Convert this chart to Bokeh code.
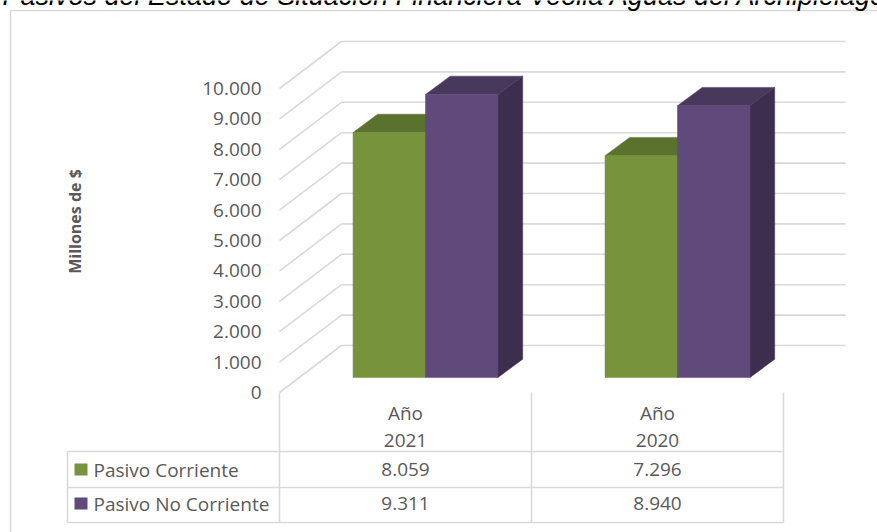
from bokeh.plotting import figure
from bokeh.models import Range1d
from bokeh.core.properties import value
from bokeh.embed import file_html
from bokeh.resources import INLINE
import math

# ---------------- data ----------------
years = ["2021", "2020"]
series_names = ["Pasivo Corriente", "Pasivo No Corriente"]
pasivo_corriente = [8059, 7296]
pasivo_no_corriente = [9311, 8940]
y_ticks = [0, 1000, 2000, 3000, 4000, 5000, 6000, 7000, 8000, 9000, 10000]
title_text = "Pasivos del Estado de Situación Financiera Veolia Aguas del Archipiélago"
y_title = "Millones de $"

# ---------------- styles / layout ----------------
W, H = 877, 532
K = 0.0304          # px per value unit
Y0 = 377            # px of value 0 on the bar plane
X0 = 425            # px of first category on the bar plane
SX = 252            # px per category step

def xu(px):
    return (px - X0) / SX

def yu(px):
    return (Y0 - px) / K

def off(dxp, dyp):
    return dxp / SX, -dyp / K

FRONT = off(-20, 15)
BACK = off(42, -32)
BAR_D = off(24.7, -18.3)
BW = 72.5 / SX

GREEN = ["#77933C", "#5B712E", "#4F6327"]
PURPLE = ["#604A7B", "#48395C", "#3D2E50"]
GRID = "#D9D9D9"
TXT = "#595959"
FONT = value("Open Sans")

def fmt(v):
    return f"{v:,}".replace(",", ".")

p = figure(width=W, height=H, output_backend="svg", toolbar_location=None,
           x_range=Range1d(xu(0), xu(W)), y_range=Range1d(yu(H), yu(0)),
           min_border=0, min_border_left=0, min_border_right=0,
           min_border_top=0, min_border_bottom=0)
p.axis.visible = False
p.grid.visible = False
p.outline_line_color = None
p.background_fill_color = "white"
p.border_fill_color = "white"

# chart border (top / left)
p.line([xu(10), xu(10)], [yu(10), yu(H + 5)], line_color=GRID, line_width=1.5)
p.line([xu(10), xu(W + 5)], [yu(10), yu(10)], line_color=GRID, line_width=1.5)

# title (cut at the top, as in the original)
p.text(x=[xu(2)], y=[yu(-5)], text=[title_text], text_font=value("Liberation Sans"),
       text_font_style="italic", text_font_size="27px", text_color="black",
       text_baseline="alphabetic", text_align="left")

# grid lines: side wall diagonals + back wall
xs, ys = [], []
for v in y_ticks:
    xs.append([-0.5 + FRONT[0], -0.5 + BACK[0], 1.5 + BACK[0]])
    ys.append([v + FRONT[1], v + BACK[1], v + BACK[1]])
p.multi_line(xs, ys, line_color=GRID, line_width=1.6)

# y tick labels
p.text(x=[xu(261)] * len(y_ticks), y=[v + FRONT[1] for v in y_ticks],
       text=[fmt(v) for v in y_ticks], text_font=FONT, text_font_size="19px",
       text_color=TXT, text_align="right", text_baseline="middle")

# y axis title
p.text(x=[xu(74)], y=[yu(221)], text=[y_title], text_font=FONT,
       text_font_style="bold", text_font_size="16px", text_color=TXT,
       angle=math.pi / 2, text_align="center", text_baseline="middle")

# bars (3D)
def bar3d(left, right, val, cols):
    dx, dy = BAR_D
    # side
    p.patch([right, right, right + dx, right + dx], [0, val, val + dy, dy],
            fill_color=cols[2], line_color=cols[2], line_width=0.5)
    # top
    p.patch([left, right, right + dx, left + dx], [val, val, val + dy, val + dy],
            fill_color=cols[1], line_color=cols[1], line_width=0.5)
    # front
    p.quad(left=[left], right=[right], bottom=[0], top=[val],
           fill_color=cols[0], line_color=cols[0], line_width=0.5)

for i in range(len(years)):
    bar3d(i - BW, i, pasivo_corriente[i], GREEN)
    bar3d(i, i + BW, pasivo_no_corriente[i], PURPLE)

# data table
col_x = [-0.5 + FRONT[0] + k for k in range(len(years) + 1)]
left_x = xu(67)
row_y = [yu(451), yu(487), yu(522)]
floor_y = 0 + FRONT[1]
tx, ty = [], []
for cx in col_x:
    tx.append([cx, cx]); ty.append([floor_y, row_y[-1]])
tx.append([left_x, left_x]); ty.append([row_y[0], row_y[-1]])
for ry in row_y:
    tx.append([left_x, col_x[-1]]); ty.append([ry, ry])
p.multi_line(tx, ty, line_color=GRID, line_width=1.6)

centers = [i + FRONT[0] for i in range(len(years))]
p.text(x=centers, y=[yu(412)] * len(years), text=["Año"] * len(years),
       text_font=FONT, text_font_size="19px", text_color=TXT,
       text_align="center", text_baseline="middle")
p.text(x=centers, y=[yu(440)] * len(years), text=years,
       text_font=FONT, text_font_size="19px", text_color=TXT,
       text_align="center", text_baseline="middle")
rows_vals = [pasivo_corriente, pasivo_no_corriente]
rows_py = [469, 503]
for r, vals in enumerate(rows_vals):
    p.text(x=centers, y=[yu(rows_py[r])] * len(vals), text=[fmt(v) for v in vals],
           text_font=FONT, text_font_size="19px", text_color=TXT,
           text_align="center", text_baseline="middle")
    p.quad(left=[xu(74)], right=[xu(87)], top=[yu(rows_py[r] - 6)], bottom=[yu(rows_py[r] + 6)],
           fill_color=[GREEN, PURPLE][r][0], line_color=None)
    p.text(x=[xu(93)], y=[yu(rows_py[r])], text=[series_names[r]],
           text_font=FONT, text_font_size="19px", text_color=TXT,
           text_align="left", text_baseline="middle")

open("out.html", "w").write(file_html(p, INLINE))
